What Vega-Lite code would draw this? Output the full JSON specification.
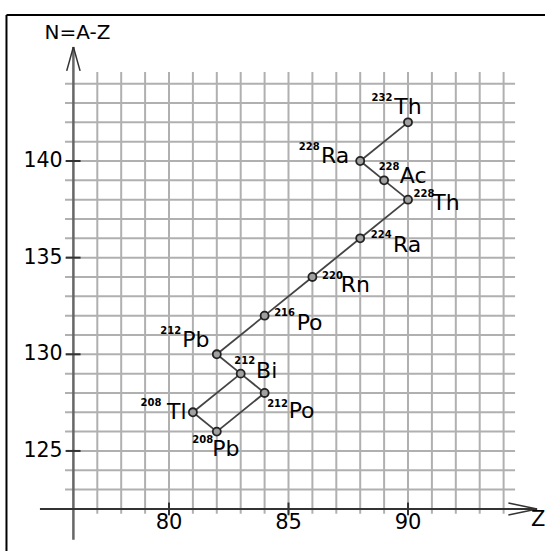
{
  "$schema": "https://vega.github.io/schema/vega-lite/v6.json",
  "width": 545,
  "height": 551,
  "autosize": {"type": "none"},
  "padding": 0,
  "background": "white",
  "config": {"view": {"stroke": null}},
  "datasets": {
    "nuclides": [
      {"id": "Th232", "mass": "232", "symbol": "Th", "Z": 90, "N": 142},
      {"id": "Ra228", "mass": "228", "symbol": "Ra", "Z": 88, "N": 140},
      {"id": "Ac228", "mass": "228", "symbol": "Ac", "Z": 89, "N": 139},
      {"id": "Th228", "mass": "228", "symbol": "Th", "Z": 90, "N": 138},
      {"id": "Ra224", "mass": "224", "symbol": "Ra", "Z": 88, "N": 136},
      {"id": "Rn220", "mass": "220", "symbol": "Rn", "Z": 86, "N": 134},
      {"id": "Po216", "mass": "216", "symbol": "Po", "Z": 84, "N": 132},
      {"id": "Pb212", "mass": "212", "symbol": "Pb", "Z": 82, "N": 130},
      {"id": "Bi212", "mass": "212", "symbol": "Bi", "Z": 83, "N": 129},
      {"id": "Po212", "mass": "212", "symbol": "Po", "Z": 84, "N": 128},
      {"id": "Tl208", "mass": "208", "symbol": "Tl", "Z": 81, "N": 127},
      {"id": "Pb208", "mass": "208", "symbol": "Pb", "Z": 82, "N": 126}
    ],
    "decays": [
      {"from": "Th232", "to": "Ra228", "Z1": 90, "N1": 142, "Z2": 88, "N2": 140},
      {"from": "Ra228", "to": "Ac228", "Z1": 88, "N1": 140, "Z2": 89, "N2": 139},
      {"from": "Ac228", "to": "Th228", "Z1": 89, "N1": 139, "Z2": 90, "N2": 138},
      {"from": "Th228", "to": "Ra224", "Z1": 90, "N1": 138, "Z2": 88, "N2": 136},
      {"from": "Ra224", "to": "Rn220", "Z1": 88, "N1": 136, "Z2": 86, "N2": 134},
      {"from": "Rn220", "to": "Po216", "Z1": 86, "N1": 134, "Z2": 84, "N2": 132},
      {"from": "Po216", "to": "Pb212", "Z1": 84, "N1": 132, "Z2": 82, "N2": 130},
      {"from": "Pb212", "to": "Bi212", "Z1": 82, "N1": 130, "Z2": 83, "N2": 129},
      {"from": "Bi212", "to": "Po212", "Z1": 83, "N1": 129, "Z2": 84, "N2": 128},
      {"from": "Po212", "to": "Pb208", "Z1": 84, "N1": 128, "Z2": 82, "N2": 126},
      {"from": "Bi212", "to": "Tl208", "Z1": 83, "N1": 129, "Z2": 81, "N2": 127},
      {"from": "Tl208", "to": "Pb208", "Z1": 81, "N1": 127, "Z2": 82, "N2": 126}
    ],
    "zgrid": [{"Z": 77}, {"Z": 78}, {"Z": 79}, {"Z": 80}, {"Z": 81}, {"Z": 82}, {"Z": 83}, {"Z": 84}, {"Z": 85}, {"Z": 86}, {"Z": 87}, {"Z": 88}, {"Z": 89}, {"Z": 90}, {"Z": 91}, {"Z": 92}, {"Z": 93}, {"Z": 94}],
    "ngrid": [{"N": 123}, {"N": 124}, {"N": 125}, {"N": 126}, {"N": 127}, {"N": 128}, {"N": 129}, {"N": 130}, {"N": 131}, {"N": 132}, {"N": 133}, {"N": 134}, {"N": 135}, {"N": 136}, {"N": 137}, {"N": 138}, {"N": 139}, {"N": 140}, {"N": 141}, {"N": 142}, {"N": 143}, {"N": 144}],
    "zticks": [{"Z": 80}, {"Z": 85}, {"Z": 90}],
    "nticks": [{"N": 125}, {"N": 130}, {"N": 135}, {"N": 140}],
    "one": [{}]
  },
  "layer": [
    {
      "data": {"name": "one"},
      "mark": {"type": "rule", "color": "#000", "strokeWidth": 2},
      "encoding": {
        "x": {"datum": 73.2, "type": "quantitative", "scale": {"domain": [72.929, 95.732], "nice": false, "zero": false}, "axis": null},
        "y": {"datum": 119.824, "type": "quantitative", "scale": {"domain": [119.824, 148.329], "nice": false, "zero": false}, "axis": null},
        "y2": {"datum": 147.55}
      }
    },
    {
      "data": {"name": "one"},
      "mark": {"type": "rule", "color": "#000", "strokeWidth": 2},
      "encoding": {
        "x": {"datum": 73.2, "type": "quantitative", "axis": null},
        "x2": {"datum": 95.732},
        "y": {"datum": 147.55, "type": "quantitative", "axis": null}
      }
    },
    {
      "data": {"name": "zgrid"},
      "mark": {"type": "rule", "color": "#b0b0b0", "strokeWidth": 2},
      "encoding": {
        "x": {"field": "Z", "type": "quantitative", "axis": null},
        "y": {"datum": 121.75, "type": "quantitative", "axis": null},
        "y2": {"datum": 144.6}
      }
    },
    {
      "data": {"name": "ngrid"},
      "mark": {"type": "rule", "color": "#b0b0b0", "strokeWidth": 2},
      "encoding": {
        "y": {"field": "N", "type": "quantitative", "axis": null},
        "x": {"datum": 75.65, "type": "quantitative", "axis": null},
        "x2": {"datum": 94.48}
      }
    },
    {
      "data": {"name": "one"},
      "mark": {"type": "rule", "color": "#666666", "strokeWidth": 2.5},
      "encoding": {
        "x": {"datum": 76, "type": "quantitative", "axis": null},
        "y": {"datum": 120.4, "type": "quantitative", "axis": null},
        "y2": {"datum": 145.9}
      }
    },
    {
      "data": {"name": "one"},
      "mark": {"type": "rule", "color": "#333333", "strokeWidth": 2},
      "encoding": {
        "x": {"datum": 74.6, "type": "quantitative", "axis": null},
        "x2": {"datum": 95.4},
        "y": {"datum": 122, "type": "quantitative", "axis": null}
      }
    },
    {
      "data": {"name": "one"},
      "mark": {"type": "rule", "color": "#333333", "strokeWidth": 1.5},
      "encoding": {
        "x": {"datum": 75.72, "type": "quantitative", "axis": null},
        "x2": {"datum": 76},
        "y": {"datum": 144.66, "type": "quantitative", "axis": null},
        "y2": {"datum": 145.9}
      }
    },
    {
      "data": {"name": "one"},
      "mark": {"type": "rule", "color": "#333333", "strokeWidth": 1.5},
      "encoding": {
        "x": {"datum": 76.28, "type": "quantitative", "axis": null},
        "x2": {"datum": 76},
        "y": {"datum": 144.66, "type": "quantitative", "axis": null},
        "y2": {"datum": 145.9}
      }
    },
    {
      "data": {"name": "one"},
      "mark": {"type": "rule", "color": "#333333", "strokeWidth": 1.5},
      "encoding": {
        "x": {"datum": 94.2, "type": "quantitative", "axis": null},
        "x2": {"datum": 95.4},
        "y": {"datum": 122.31, "type": "quantitative", "axis": null},
        "y2": {"datum": 122}
      }
    },
    {
      "data": {"name": "one"},
      "mark": {"type": "rule", "color": "#333333", "strokeWidth": 1.5},
      "encoding": {
        "x": {"datum": 94.2, "type": "quantitative", "axis": null},
        "x2": {"datum": 95.4},
        "y": {"datum": 121.69, "type": "quantitative", "axis": null},
        "y2": {"datum": 122}
      }
    },
    {
      "data": {"name": "zticks"},
      "mark": {"type": "rule", "color": "#333333", "strokeWidth": 2},
      "encoding": {
        "x": {"field": "Z", "type": "quantitative", "axis": null},
        "y": {"datum": 122.33, "type": "quantitative", "axis": null},
        "y2": {"datum": 121.67}
      }
    },
    {
      "data": {"name": "nticks"},
      "mark": {"type": "rule", "color": "#333333", "strokeWidth": 2},
      "encoding": {
        "y": {"field": "N", "type": "quantitative", "axis": null},
        "x": {"datum": 75.69, "type": "quantitative", "axis": null},
        "x2": {"datum": 76.3}
      }
    },
    {
      "data": {"name": "zticks"},
      "mark": {"type": "text", "font": "DejaVu Sans", "fontSize": 21, "color": "#000", "align": "center", "baseline": "middle"},
      "encoding": {
        "x": {"field": "Z", "type": "quantitative", "axis": null},
        "y": {"datum": 121.25, "type": "quantitative", "axis": null},
        "text": {"field": "Z", "type": "quantitative"}
      }
    },
    {
      "data": {"name": "nticks"},
      "mark": {"type": "text", "font": "DejaVu Sans", "fontSize": 20.5, "color": "#000", "align": "right", "baseline": "middle"},
      "encoding": {
        "y": {"field": "N", "type": "quantitative", "axis": null},
        "x": {"datum": 75.55, "type": "quantitative", "axis": null},
        "text": {"field": "N", "type": "quantitative"}
      }
    },
    {
      "data": {"name": "one"},
      "mark": {"type": "text", "font": "DejaVu Sans", "fontSize": 20, "color": "#000", "align": "center", "baseline": "middle", "text": "N=A-Z"},
      "encoding": {
        "x": {"datum": 76.17, "type": "quantitative", "axis": null},
        "y": {"datum": 146.6, "type": "quantitative", "axis": null}
      }
    },
    {
      "data": {"name": "one"},
      "mark": {"type": "text", "font": "DejaVu Sans", "fontSize": 21, "color": "#000", "align": "center", "baseline": "middle", "text": "Z"},
      "encoding": {
        "x": {"datum": 95.45, "type": "quantitative", "axis": null},
        "y": {"datum": 121.43, "type": "quantitative", "axis": null}
      }
    },
    {
      "data": {"name": "decays"},
      "mark": {"type": "rule", "color": "#444444", "strokeWidth": 1.8},
      "encoding": {
        "x": {"field": "Z1", "type": "quantitative", "axis": null},
        "x2": {"field": "Z2"},
        "y": {"field": "N1", "type": "quantitative", "axis": null},
        "y2": {"field": "N2"}
      }
    },
    {
      "data": {"name": "nuclides"},
      "mark": {"type": "point", "shape": "circle", "size": 65, "filled": false, "fill": "#a0a0a0", "fillOpacity": 1, "stroke": "#222222", "strokeWidth": 1.8, "opacity": 1},
      "encoding": {
        "x": {"field": "Z", "type": "quantitative", "axis": null},
        "y": {"field": "N", "type": "quantitative", "axis": null}
      }
    },
    {
      "data": {"name": "nuclides"},
      "transform": [{"filter": "datum.id == 'Th232'"}],
      "encoding": {"x": {"field": "Z", "type": "quantitative", "axis": null}, "y": {"field": "N", "type": "quantitative", "axis": null}},
      "layer": [
        {"mark": {"type": "text", "font": "DejaVu Sans", "fontSize": 22, "color": "#000", "dx": 0, "dy": -15}, "encoding": {"text": {"field": "symbol"}}},
        {"mark": {"type": "text", "font": "DejaVu Sans", "fontSize": 10, "fontWeight": "bold", "color": "#000", "dx": -26, "dy": -24.5}, "encoding": {"text": {"field": "mass"}}}
      ]
    },
    {
      "data": {"name": "nuclides"},
      "transform": [{"filter": "datum.id == 'Ra228'"}],
      "encoding": {"x": {"field": "Z", "type": "quantitative", "axis": null}, "y": {"field": "N", "type": "quantitative", "axis": null}},
      "layer": [
        {"mark": {"type": "text", "font": "DejaVu Sans", "fontSize": 22, "color": "#000", "dx": -25, "dy": -4.5}, "encoding": {"text": {"field": "symbol"}}},
        {"mark": {"type": "text", "font": "DejaVu Sans", "fontSize": 10, "fontWeight": "bold", "color": "#000", "dx": -51, "dy": -13.5}, "encoding": {"text": {"field": "mass"}}}
      ]
    },
    {
      "data": {"name": "nuclides"},
      "transform": [{"filter": "datum.id == 'Ac228'"}],
      "encoding": {"x": {"field": "Z", "type": "quantitative", "axis": null}, "y": {"field": "N", "type": "quantitative", "axis": null}},
      "layer": [
        {"mark": {"type": "text", "font": "DejaVu Sans", "fontSize": 22, "color": "#000", "dx": 29, "dy": -4}, "encoding": {"text": {"field": "symbol"}}},
        {"mark": {"type": "text", "font": "DejaVu Sans", "fontSize": 10, "fontWeight": "bold", "color": "#000", "dx": 5, "dy": -13}, "encoding": {"text": {"field": "mass"}}}
      ]
    },
    {
      "data": {"name": "nuclides"},
      "transform": [{"filter": "datum.id == 'Th228'"}],
      "encoding": {"x": {"field": "Z", "type": "quantitative", "axis": null}, "y": {"field": "N", "type": "quantitative", "axis": null}},
      "layer": [
        {"mark": {"type": "text", "font": "DejaVu Sans", "fontSize": 22, "color": "#000", "dx": 38, "dy": 3}, "encoding": {"text": {"field": "symbol"}}},
        {"mark": {"type": "text", "font": "DejaVu Sans", "fontSize": 10, "fontWeight": "bold", "color": "#000", "dx": 16, "dy": -6}, "encoding": {"text": {"field": "mass"}}}
      ]
    },
    {
      "data": {"name": "nuclides"},
      "transform": [{"filter": "datum.id == 'Ra224'"}],
      "encoding": {"x": {"field": "Z", "type": "quantitative", "axis": null}, "y": {"field": "N", "type": "quantitative", "axis": null}},
      "layer": [
        {"mark": {"type": "text", "font": "DejaVu Sans", "fontSize": 22, "color": "#000", "dx": 47, "dy": 6.5}, "encoding": {"text": {"field": "symbol"}}},
        {"mark": {"type": "text", "font": "DejaVu Sans", "fontSize": 10, "fontWeight": "bold", "color": "#000", "dx": 21, "dy": -3.5}, "encoding": {"text": {"field": "mass"}}}
      ]
    },
    {
      "data": {"name": "nuclides"},
      "transform": [{"filter": "datum.id == 'Rn220'"}],
      "encoding": {"x": {"field": "Z", "type": "quantitative", "axis": null}, "y": {"field": "N", "type": "quantitative", "axis": null}},
      "layer": [
        {"mark": {"type": "text", "font": "DejaVu Sans", "fontSize": 22, "color": "#000", "dx": 43, "dy": 8.5}, "encoding": {"text": {"field": "symbol"}}},
        {"mark": {"type": "text", "font": "DejaVu Sans", "fontSize": 10, "fontWeight": "bold", "color": "#000", "dx": 20, "dy": -1}, "encoding": {"text": {"field": "mass"}}}
      ]
    },
    {
      "data": {"name": "nuclides"},
      "transform": [{"filter": "datum.id == 'Po216'"}],
      "encoding": {"x": {"field": "Z", "type": "quantitative", "axis": null}, "y": {"field": "N", "type": "quantitative", "axis": null}},
      "layer": [
        {"mark": {"type": "text", "font": "DejaVu Sans", "fontSize": 22, "color": "#000", "dx": 45, "dy": 7.5}, "encoding": {"text": {"field": "symbol"}}},
        {"mark": {"type": "text", "font": "DejaVu Sans", "fontSize": 10, "fontWeight": "bold", "color": "#000", "dx": 20, "dy": -2.5}, "encoding": {"text": {"field": "mass"}}}
      ]
    },
    {
      "data": {"name": "nuclides"},
      "transform": [{"filter": "datum.id == 'Pb212'"}],
      "encoding": {"x": {"field": "Z", "type": "quantitative", "axis": null}, "y": {"field": "N", "type": "quantitative", "axis": null}},
      "layer": [
        {"mark": {"type": "text", "font": "DejaVu Sans", "fontSize": 22, "color": "#000", "dx": -21, "dy": -14}, "encoding": {"text": {"field": "symbol"}}},
        {"mark": {"type": "text", "font": "DejaVu Sans", "fontSize": 10, "fontWeight": "bold", "color": "#000", "dx": -46, "dy": -23}, "encoding": {"text": {"field": "mass"}}}
      ]
    },
    {
      "data": {"name": "nuclides"},
      "transform": [{"filter": "datum.id == 'Bi212'"}],
      "encoding": {"x": {"field": "Z", "type": "quantitative", "axis": null}, "y": {"field": "N", "type": "quantitative", "axis": null}},
      "layer": [
        {"mark": {"type": "text", "font": "DejaVu Sans", "fontSize": 22, "color": "#000", "dx": 26, "dy": -3}, "encoding": {"text": {"field": "symbol"}}},
        {"mark": {"type": "text", "font": "DejaVu Sans", "fontSize": 10, "fontWeight": "bold", "color": "#000", "dx": 4, "dy": -13}, "encoding": {"text": {"field": "mass"}}}
      ]
    },
    {
      "data": {"name": "nuclides"},
      "transform": [{"filter": "datum.id == 'Po212'"}],
      "encoding": {"x": {"field": "Z", "type": "quantitative", "axis": null}, "y": {"field": "N", "type": "quantitative", "axis": null}},
      "layer": [
        {"mark": {"type": "text", "font": "DejaVu Sans", "fontSize": 22, "color": "#000", "dx": 37, "dy": 18}, "encoding": {"text": {"field": "symbol"}}},
        {"mark": {"type": "text", "font": "DejaVu Sans", "fontSize": 10, "fontWeight": "bold", "color": "#000", "dx": 13, "dy": 11}, "encoding": {"text": {"field": "mass"}}}
      ]
    },
    {
      "data": {"name": "nuclides"},
      "transform": [{"filter": "datum.id == 'Tl208'"}],
      "encoding": {"x": {"field": "Z", "type": "quantitative", "axis": null}, "y": {"field": "N", "type": "quantitative", "axis": null}},
      "layer": [
        {"mark": {"type": "text", "font": "DejaVu Sans", "fontSize": 22, "color": "#000", "dx": -16, "dy": 0}, "encoding": {"text": {"field": "symbol"}}},
        {"mark": {"type": "text", "font": "DejaVu Sans", "fontSize": 10, "fontWeight": "bold", "color": "#000", "dx": -42, "dy": -9}, "encoding": {"text": {"field": "mass"}}}
      ]
    },
    {
      "data": {"name": "nuclides"},
      "transform": [{"filter": "datum.id == 'Pb208'"}],
      "encoding": {"x": {"field": "Z", "type": "quantitative", "axis": null}, "y": {"field": "N", "type": "quantitative", "axis": null}},
      "layer": [
        {"mark": {"type": "text", "font": "DejaVu Sans", "fontSize": 22, "color": "#000", "dx": 9, "dy": 17}, "encoding": {"text": {"field": "symbol"}}},
        {"mark": {"type": "text", "font": "DejaVu Sans", "fontSize": 10, "fontWeight": "bold", "color": "#000", "dx": -14, "dy": 8}, "encoding": {"text": {"field": "mass"}}}
      ]
    }
  ]
}
